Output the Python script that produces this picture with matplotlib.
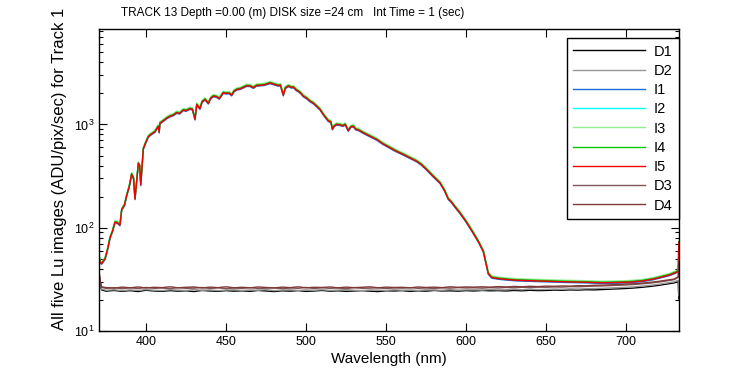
import matplotlib
matplotlib.use("Agg")
import matplotlib.pyplot as plt
from matplotlib import font_manager
from matplotlib.ticker import LogLocator, LogFormatterMathtext, NullFormatter
import numpy as np

plt.rcParams['font.family'] = ['Liberation Sans', 'DejaVu Sans']
plt.rcParams['mathtext.default'] = 'regular'

# dark frames (D1..D4)
dark_wl = [370.6, 371.3, 372.2, 375, 380, 385, 390, 395, 400, 405,
           410, 415, 420, 425, 430, 435, 440, 445, 450, 455,
           460, 465, 470, 475, 480, 485, 490, 495, 500, 505,
           510, 515, 520, 525, 530, 535, 540, 545, 550, 555,
           560, 565, 570, 575, 580, 585, 590, 595, 600, 605,
           610, 615, 620, 625, 630, 635, 640, 645, 650, 655,
           660, 665, 670, 675, 680, 685, 690, 695, 700, 705,
           710, 715, 720, 725, 730, 732.6, 733.0]

d1 = [36.5, 29.0, 25.0, 24.3, 24.7, 24.2, 24.6, 24.1, 24.8, 24.4,
      24.2, 24.6, 24.3, 24.5, 24.1, 24.7, 24.4, 24.2, 24.6, 24.3,
      24.5, 24.2, 24.7, 24.4, 24.1, 24.5, 24.3, 24.6, 24.2, 24.4,
      24.7, 24.3, 24.5, 24.2, 24.4, 24.6, 24.3, 24.1, 24.5, 24.4,
      24.6, 24.2, 24.5, 24.3, 24.7, 24.4, 24.5, 24.3, 24.6, 24.4,
      24.7, 24.5, 24.6, 24.4, 24.7, 24.5, 24.8, 24.6, 24.7, 24.9,
      24.8, 25.0, 24.9, 25.1, 25.0, 25.2, 25.4, 25.6, 25.8, 26.1,
      26.5, 27.0, 27.6, 28.4, 29.2, 30.1, 20.5]

d2 = [37.0, 29.5, 25.5, 24.8, 25.1, 24.6, 25.0, 24.7, 25.2, 24.8,
      24.6, 25.1, 24.9, 24.7, 25.2, 24.8, 25.0, 24.6, 24.9, 25.1,
      24.7, 25.0, 24.8, 25.2, 24.6, 24.9, 25.1, 24.7, 25.0, 24.8,
      25.1, 24.7, 24.9, 25.2, 24.8, 24.6, 25.0, 24.9, 24.7, 25.1,
      24.8, 25.0, 24.7, 25.1, 24.9, 24.8, 25.2, 24.9, 25.0, 25.1,
      24.9, 25.2, 25.0, 25.1, 25.3, 25.1, 25.4, 25.2, 25.3, 25.5,
      25.4, 25.6, 25.5, 25.7, 25.8, 25.9, 26.1, 26.3, 26.5, 26.8,
      27.2, 27.7, 28.3, 29.1, 29.9, 31.0, 22.0]

d3 = [38.0, 31.0, 26.5, 25.9, 26.3, 25.7, 26.2, 25.8, 26.4, 25.9,
      26.1, 25.7, 26.3, 25.9, 26.0, 26.4, 25.8, 26.2, 25.7, 26.1,
      25.9, 26.3, 25.8, 26.0, 26.2, 25.7, 26.1, 25.9, 26.4, 25.8,
      26.2, 25.9, 26.1, 25.7, 26.3, 25.9, 26.0, 26.2, 25.8, 26.1,
      26.0, 26.3, 25.9, 26.1, 25.8, 26.2, 26.0, 26.3, 26.1, 26.2,
      26.0, 26.3, 26.1, 26.4, 26.2, 26.5, 26.3, 26.6, 26.5, 26.7,
      26.6, 26.9, 26.8, 27.0, 27.2, 27.3, 27.5, 27.7, 27.9, 28.2,
      28.6, 29.1, 29.7, 30.5, 31.4, 33.0, 48.0]

d4 = [37.5, 30.5, 26.8, 26.3, 26.0, 26.6, 26.2, 26.7, 26.1, 26.5,
      26.3, 26.8, 26.2, 26.5, 26.7, 26.1, 26.6, 26.3, 26.8, 26.2,
      26.5, 26.2, 26.7, 26.4, 26.1, 26.6, 26.3, 26.8, 26.2, 26.5,
      26.4, 26.7, 26.2, 26.6, 26.3, 26.5, 26.8, 26.2, 26.6, 26.4,
      26.5, 26.2, 26.7, 26.4, 26.6, 26.3, 26.8, 26.5, 26.7, 26.6,
      26.8, 26.6, 26.9, 26.7, 27.0, 26.8, 27.1, 26.9, 27.2, 27.1,
      27.3, 27.2, 27.5, 27.4, 27.7, 27.8, 28.0, 28.2, 28.5, 28.7,
      29.1, 29.6, 30.2, 31.0, 31.8, 33.5, 46.0]

# illuminated frames (I1..I5): common spectrum shape
spec_wl = [370.6, 371.2, 372.3, 374.4, 376.0, 377.5, 379.0, 380.6, 382.0, 383.7,
           384.8, 386.5, 387.9, 389.5, 391.0, 392.2, 393.1, 394.3, 395.2, 396.0,
           396.7, 398.3, 399.5, 401.4, 403.0, 405.6, 406.5, 407.6, 408.2, 408.7,
           410.0, 412.9, 415.0, 417.0, 419.2, 421.0, 423.3, 425.0, 427.5, 429.0,
           430.6, 431.7, 433.7, 435.0, 436.9, 438.9, 440.5, 442.1, 444.0, 445.8,
           448.3, 450.0, 452.0, 453.5, 455.0, 456.7, 459.0, 462.9, 465.0, 467.1,
           469.0, 471.2, 474.0, 477.5, 480.0, 482.7, 484.0, 485.8, 487.0, 489.0,
           491.0, 492.1, 494.0, 495.2, 497.0, 498.3, 500.5, 502.5, 504.5, 506.7,
           508.7, 510.8, 512.0, 514.0, 515.5, 516.5, 517.5, 519.0, 521.3, 523.0,
           524.5, 526.4, 528.0, 529.6, 531.0, 533.0, 535.8, 540.0, 544.2, 548.0,
           552.5, 556.0, 560.8, 565.0, 569.2, 572.0, 575.4, 579.0, 583.7, 586.5,
           588.9, 590.5, 593.0, 596.2, 600.0, 604.5, 608.0, 610.8, 612.5, 613.9,
           616.0, 620.0, 625.0, 631.7, 640.0, 652.5, 660.0, 673.3, 685.0, 695.0,
           702.5, 710.0, 717.0, 722.0, 727.0, 731.0, 732.7, 733.0]
spec_val = [55, 46, 45, 50, 62, 80, 92, 113, 112, 106,
            150, 165, 205, 250, 330, 300, 190, 300, 420, 400,
            260, 580, 650, 760, 800, 850, 900, 960, 840, 1030,
            1060, 1150, 1200, 1230, 1300, 1280, 1380, 1360, 1420, 1400,
            1120, 1560, 1420, 1650, 1750, 1600, 1800, 1880, 1860, 1780,
            2030, 2000, 2010, 1920, 2100, 2180, 2220, 2370, 2360, 2270,
            2380, 2400, 2420, 2520, 2450, 2380, 2400, 1920, 2250, 2360,
            2280, 2300, 2150, 2100, 1990, 1880, 1790, 1680, 1610, 1500,
            1400, 1250, 1180, 1080, 1060, 900, 960, 1000, 990, 970,
            1000, 870, 950, 960, 900, 880, 830, 770, 714, 650,
            594, 555, 512, 475, 440, 410, 366, 320, 272, 230,
            190, 180, 160, 139, 115, 89, 72, 59, 45, 36,
            33.0, 32.2, 31.6, 31.0, 30.7, 30.3, 30.0, 29.7, 29.3, 29.5,
            29.8, 30.5, 31.8, 33.3, 34.8, 36.8, 38.0, 72.0]
# relative level of each illuminated image
i_gain = [0.985, 1.02, 1.035, 1.012, 1.0]

labels = ['D1', 'D2', 'I1', 'I2', 'I3', 'I4', 'I5', 'D3', 'D4']
colors = ['#000000', '#969696', '#1a6fd6', '#00ffff', '#90ee90',
          '#00c800', '#f00000', '#7f5555', '#803838']

# the title in the reference is set in a condensed face
installed = {f.name for f in font_manager.fontManager.ttflist}
if 'Liberation Sans Narrow' in installed:
    title_font, title_size = ['Liberation Sans Narrow', 'Liberation Sans'], 10.5
else:
    title_font, title_size = ['Liberation Sans', 'DejaVu Sans'], 8.5

fig = plt.figure(figsize=(7.5, 3.75), dpi=100)
ax = fig.add_axes([99 / 750, 1 - 331 / 375, 580 / 750, 302 / 375])

series = [(dark_wl, d1), (dark_wl, d2)]
series += [(spec_wl, np.array(spec_val) * g) for g in i_gain]
series += [(dark_wl, d3), (dark_wl, d4)]
for (x, y), lab, c in zip(series, labels, colors):
    ax.plot(x, y, color=c, lw=1.0, label=lab)

ax.set_yscale('log')
ax.set_xlim(370.6, 733.1)
ax.set_ylim(10, 8400)
ax.set_xticks([400, 450, 500, 550, 600, 650, 700])
ax.yaxis.set_major_locator(LogLocator(base=10, numticks=10))
ax.yaxis.set_major_formatter(LogFormatterMathtext())
ax.yaxis.set_minor_locator(LogLocator(base=10, subs=np.arange(2, 10), numticks=10))
ax.yaxis.set_minor_formatter(NullFormatter())
ax.tick_params(which='both', direction='in', top=True, right=True, labelsize=9, width=0.8)
ax.tick_params(which='major', length=5.5)
ax.tick_params(which='minor', length=3)
for s in ax.spines.values():
    s.set_linewidth(1.0)

ax.set_xlabel('Wavelength (nm)', fontsize=11, labelpad=3)
fig.text(60 / 750, 1 - 169 / 375, 'All five Lu images (ADU/pix/sec) for Track 1',
         rotation=90, ha='center', va='center', fontsize=12)
fig.text(293 / 750, 1 - 13 / 375,
         'TRACK 13 Depth =0.00 (m) DISK size =24 cm   Int Time = 1 (sec)',
         ha='center', va='center', fontsize=title_size, family=title_font)

leg = ax.legend(loc='upper right', bbox_to_anchor=(1.0, 1 - 9 / 302), fontsize=10.5,
                handlelength=4.9, handletextpad=0.6, borderpad=0.45,
                labelspacing=0.36, borderaxespad=0, fancybox=False,
                edgecolor='black', framealpha=1)
leg.get_frame().set_linewidth(1.0)

fig.savefig('out.png', dpi=100)
